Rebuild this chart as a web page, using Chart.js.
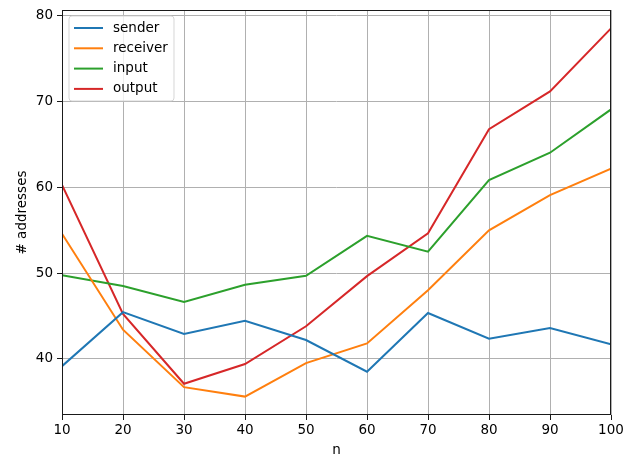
<!DOCTYPE html>
<html>
<head>
<meta charset="utf-8">
<script src="https://cdn.jsdelivr.net/npm/chart.js@4.4.1/dist/chart.umd.min.js"></script>
<style>
  html, body { margin: 0; padding: 0; background: #fff; }
  #wrap { width: 635px; height: 457px; }
</style>
</head>
<body>
<div id="wrap"><canvas id="c" width="635" height="457"></canvas></div>
<script>
// Number of addresses per category as n grows
const nValues = [10, 20, 30, 40, 50, 60, 70, 80, 90, 100];
const sender   = [39.15, 45.45, 42.9, 44.45, 42.2, 38.5, 45.35, 42.35, 43.6, 41.7];
const receiver = [54.6, 43.4, 36.7, 35.6, 39.5, 41.8, 48.0, 55.0, 59.1, 62.2];
const input    = [49.75, 48.5, 46.65, 48.65, 49.7, 54.35, 52.5, 60.85, 64.05, 69.1];
const output   = [60.3, 45.25, 37.1, 39.4, 43.8, 49.65, 54.65, 66.8, 71.2, 78.55];
const yTicks = [40, 50, 60, 70, 80];
const xTicks = [10, 20, 30, 40, 50, 60, 70, 80, 90, 100];

const seriesNames = ['sender', 'receiver', 'input', 'output'];
const seriesData = [sender, receiver, input, output];
const palette = ['#1f77b4', '#ff7f0e', '#2ca02c', '#d62728'];

const FONT = "'DejaVu Sans', sans-serif";

const datasets = seriesNames.map((name, i) => ({
  label: name,
  data: nValues.map((n, j) => ({ x: n, y: seriesData[i][j] })),
  borderColor: palette[i],
  backgroundColor: palette[i],
  borderWidth: 2,
  pointRadius: 0,
  tension: 0,
  fill: false
}));

// padded y range around the data
const allY = seriesData.flat();
const yLo = Math.min(...allY), yHi = Math.max(...allY);
const yPad = (yHi - yLo) * 0.05;

// Frame around the plotting area plus an inset legend box
const framePlugin = {
  id: 'frame',
  afterDraw(chart) {
    const { ctx, chartArea: a } = chart;
    ctx.save();
    ctx.strokeStyle = '#1a1a1a';
    ctx.lineWidth = 1;
    ctx.strokeRect(Math.round(a.left) + 0.5, Math.round(a.top) + 0.5,
                   Math.round(a.right - a.left) - 1, Math.round(a.bottom - a.top) - 1);

    // legend
    const bx = a.left + 7, by = a.top + 6, bw = 105, bh = 85, r = 3;
    ctx.beginPath();
    ctx.moveTo(bx + r, by);
    ctx.arcTo(bx + bw, by, bx + bw, by + bh, r);
    ctx.arcTo(bx + bw, by + bh, bx, by + bh, r);
    ctx.arcTo(bx, by + bh, bx, by, r);
    ctx.arcTo(bx, by, bx + bw, by, r);
    ctx.closePath();
    ctx.fillStyle = 'rgba(255,255,255,0.8)';
    ctx.fill();
    ctx.strokeStyle = 'rgba(204,204,204,0.8)';
    ctx.lineWidth = 1;
    ctx.stroke();

    ctx.font = '13.5px ' + FONT;
    ctx.textBaseline = 'middle';
    ctx.fillStyle = '#000';
    chart.data.datasets.forEach((ds, i) => {
      const yy = by + 12 + i * 20.3;
      ctx.beginPath();
      ctx.strokeStyle = ds.borderColor;
      ctx.lineWidth = 2;
      ctx.moveTo(bx + 5, yy);
      ctx.lineTo(bx + 34, yy);
      ctx.stroke();
      ctx.fillText(ds.label, bx + 44, yy);
    });
    ctx.restore();
  }
};

new Chart(document.getElementById('c'), {
  type: 'line',
  data: { datasets },
  options: {
    responsive: false,
    animation: false,
    devicePixelRatio: 1,
    layout: { padding: { left: 0, right: 24, top: 10, bottom: 0 } },
    plugins: { legend: { display: false }, tooltip: { enabled: false } },
    scales: {
      x: {
        type: 'linear',
        min: 10,
        max: 100,
        afterBuildTicks(scale) { scale.ticks = xTicks.map(v => ({ value: v })); },
        afterFit(scale) { scale.height = 42; },
        grid: { color: '#b0b0b0', lineWidth: 1, tickLength: 5, tickColor: '#1a1a1a' },
        border: { display: false },
        ticks: { color: '#000', font: { family: FONT, size: 13.5 }, padding: 2, maxRotation: 0 },
        title: { display: true, text: 'n', color: '#000', font: { family: FONT, size: 13.5 }, padding: { top: 0, bottom: -2 } }
      },
      y: {
        type: 'linear',
        min: yLo - yPad,
        max: yHi + yPad,
        afterBuildTicks(scale) { scale.ticks = yTicks.map(v => ({ value: v })); },
        afterFit(scale) { scale.width = 62; scale.paddingTop = 0; scale.paddingBottom = 0; },
        grid: { color: '#b0b0b0', lineWidth: 1, tickLength: 5, tickColor: '#1a1a1a' },
        border: { display: false },
        ticks: { color: '#000', font: { family: FONT, size: 13.5 }, padding: 4 },
        title: { display: true, text: '# addresses', color: '#000', font: { family: FONT, size: 13.5 }, padding: { top: 14, bottom: 0 } }
      }
    }
  },
  plugins: [framePlugin]
});
</script>
</body>
</html>
